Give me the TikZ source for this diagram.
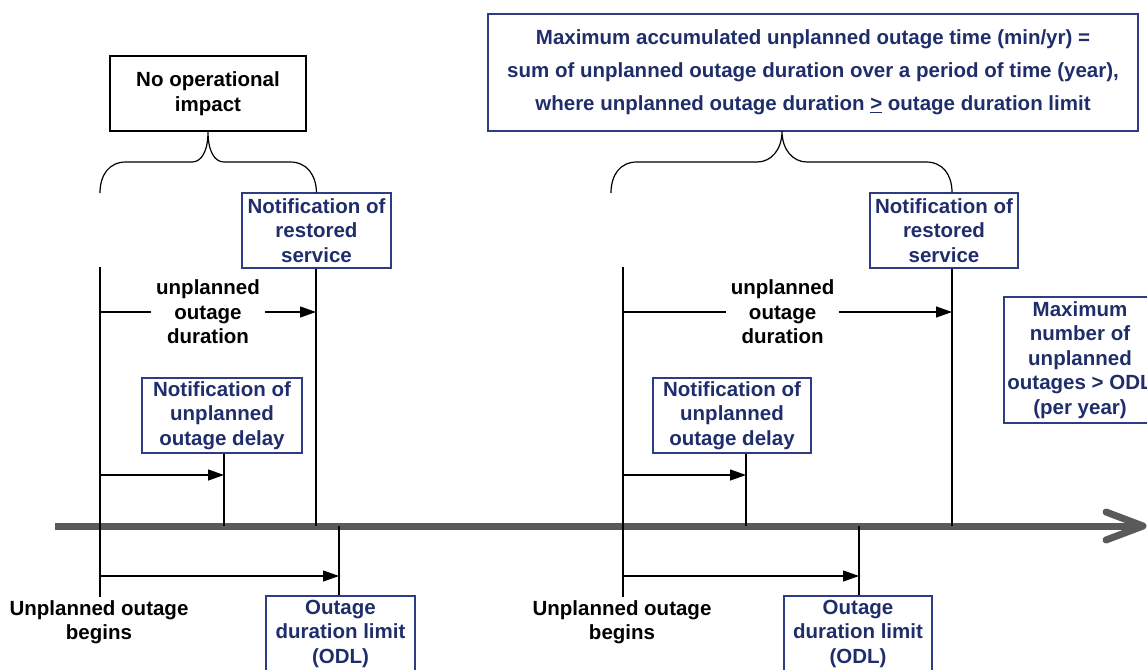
\documentclass[tikz,border=0pt]{standalone}
\usepackage{fontspec}
\setmainfont{Liberation Sans}
\usepackage{tikz}
\usetikzlibrary{arrows.meta, positioning}
\usepackage{xcolor}
\definecolor{navytext}{HTML}{1F2E6B}
\definecolor{boxblue}{HTML}{2E3C86}
\definecolor{tlgray}{HTML}{5A5A5A}
\newcommand{\diagfont}{\fontsize{20.5}{24.5}\selectfont\bfseries}

\begin{document}
\begin{tikzpicture}[x=1pt, y=-1pt,
    navybox/.style={draw=boxblue, text=navytext, line width=1.2pt, align=center,
        inner sep=2pt, font=\diagfont, minimum height=75pt},
    blackbox/.style={draw=black, text=black, line width=1.2pt, align=center,
        inner sep=2pt, font=\diagfont, minimum height=75pt},
    plainlbl/.style={align=center, font=\diagfont, inner sep=3pt},
    durlbl/.style={plainlbl, fill=white, inner xsep=5pt, inner ysep=0pt},
    tickline/.style={line width=1.2pt},
    dimarrow/.style={line width=1.3pt, -{Triangle[length=16pt, width=11pt]}},
    timeline/.style={draw=tlgray, line width=7pt},
    bracel/.style={line width=1.2pt}]
    \useasboundingbox (0,0) rectangle (1147,669);

    % Timeline
    \coordinate (tlStart) at (55,526);
    \coordinate (tlEnd) at (1143,526);
    \draw[timeline] (tlStart) -- (tlEnd);
    \draw[timeline, line cap=round, line join=round] (1106,512) -- (tlEnd) -- (1106,540);

    % Levels of the dimension arrows
    \coordinate (durY) at (0,312);
    \coordinate (delY) at (0,475);
    \coordinate (odlY) at (0,576);

    % Event points on the timeline
    \coordinate (beginL) at (100,267);
    \coordinate (restoreL) at (316,526);
    \coordinate (delayPtL) at (224,526);
    \coordinate (odlPtL) at (339,526);
    \coordinate (beginR) at (623,267);
    \coordinate (restoreR) at (952,526);
    \coordinate (delayPtR) at (746,526);
    \coordinate (odlPtR) at (859,526);

    % Boxes
    \node[blackbox, minimum width=196pt] (noOpL) at (208,93.5) {No operational\\impact};
    \node[navybox, minimum width=650pt, minimum height=117pt,
        font=\fontsize{20.5}{33}\selectfont\bfseries] (bigR) at (813,72.5)
        {Maximum accumulated unplanned outage time (min/yr) =\\
         sum of unplanned outage duration over a period of time (year),\\
         where unplanned outage duration \underline{>} outage duration limit};
    \node[navybox, minimum width=149pt] (restL) at (316.5,230.5) {Notification of\\restored\\service};
    \node[navybox, minimum width=148pt] (restR) at (944,230.5) {Notification of\\restored\\service};
    \node[navybox, minimum width=160pt] (delayL) at (222,415.5) {Notification of\\unplanned\\outage delay};
    \node[navybox, minimum width=158pt] (delayR) at (732,415.5) {Notification of\\unplanned\\outage delay};
    \node[navybox, minimum width=149pt] (odlL) at (340.5,633.5) {Outage\\duration limit\\(ODL)};
    \node[navybox, minimum width=148pt] (odlR) at (858,633.5) {Outage\\duration limit\\(ODL)};
    \node[navybox, minimum width=152pt, minimum height=126pt] (maxR) at (1080,360)
        {Maximum\\number of\\unplanned\\outages > ODL\\(per year)};

    % Begin labels
    \node[plainlbl] (lblL) at (99,622) {Unplanned outage\\begins};
    \node[plainlbl] (lblR) at (622,622) {Unplanned outage\\begins};

    % Braces
    \coordinate (tipR) at (782,131);
    \draw[bracel] (100,193) .. controls (100,175) and (109,162) .. (126,162) -- (192,162)
        .. controls (201,162) and (208,152) .. (noOpL.south)
        .. controls (208,152) and (215,162) .. (224,162) -- (290,162)
        .. controls (307,162) and (316,175) .. (restL.north);
    \draw[bracel] (611,193) .. controls (611,175) and (620,162) .. (637,162) -- (757,162)
        .. controls (771,162) and (782,150) .. (tipR)
        .. controls (782,150) and (793,162) .. (807,162) -- (926,162)
        .. controls (943,162) and (952,175) .. (restoreR |- restR.north);

    % Vertical marks, left
    \draw[tickline] (beginL) -- (beginL |- lblL.north);
    \draw[tickline] (restoreL |- restL.south) -- (restoreL);
    \draw[tickline] (delayPtL |- delayL.south) -- (delayPtL);
    \draw[tickline] (odlPtL) -- (odlPtL |- odlL.north);

    % Vertical marks, right
    \draw[tickline] (beginR) -- (beginR |- lblR.north);
    \draw[tickline] (restoreR |- restR.south) -- (restoreR);
    \draw[tickline] (delayPtR |- delayR.south) -- (delayPtR);
    \draw[tickline] (odlPtR) -- (odlPtR |- odlR.north);

    % Durations, left
    \draw[dimarrow] (beginL |- durY) -- (restoreL |- durY)
        node[durlbl, midway] (durL) {unplanned\\outage\\duration};
    \draw[dimarrow] (beginL |- delY) -- (delayPtL |- delY);
    \draw[dimarrow] (beginL |- odlY) -- (odlPtL |- odlY);

    % Durations, right
    \draw[dimarrow] (beginR |- durY) -- (restoreR |- durY)
        node[durlbl, pos=0.485] (durR) {unplanned\\outage\\duration};
    \draw[dimarrow] (beginR |- delY) -- (delayPtR |- delY);
    \draw[dimarrow] (beginR |- odlY) -- (odlPtR |- odlY);
\end{tikzpicture}
\end{document}
